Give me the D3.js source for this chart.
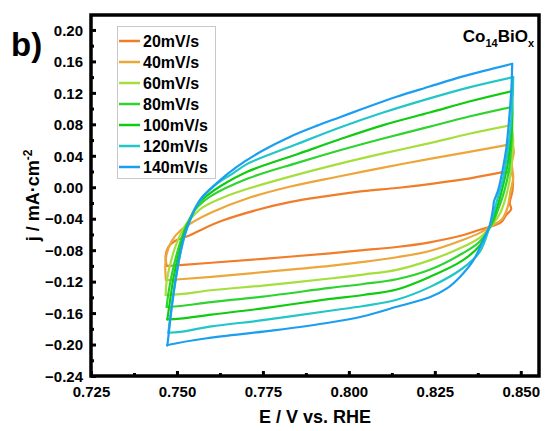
<!DOCTYPE html>
<html>
<head>
<meta charset="utf-8">
<script src="https://cdn.jsdelivr.net/npm/d3@7"></script>
<style>
  body { margin: 0; background: #fff; }
  svg text { font-family: "Liberation Sans", Arial, sans-serif; font-weight: bold; fill: #000; }
</style>
</head>
<body>
<svg id="canvas" width="545" height="431"></svg>
<script>
// scan rates shown in the legend
let rates = ['20mV/s', '40mV/s', '60mV/s', '80mV/s', '100mV/s', '120mV/s', '140mV/s'];
let colors = ['#f07d2a', '#eca63a', '#a4df3c', '#2ed42e', '#10cc10', '#22c6c6', '#1c9ef0'];

// CV loops: [E (V vs RHE), j (mA/cm2)]
// each loop: anodic branch left->right, then back along the cathodic branch
let cv20 = [[0.7470,-0.100],[0.7467,-0.088],[0.7475,-0.076],[0.7495,-0.068],[0.7538,-0.061],[0.7580,-0.052],[0.7635,-0.042],[0.7732,-0.029],[0.7828,-0.019],[0.7925,-0.012],[0.8040,-0.005],[0.8139,-0.001],[0.8235,0.004],[0.8332,0.010],[0.8444,0.019],
  [0.8473,0.018],[0.8476,-0.004],[0.8468,-0.020],[0.8472,-0.028],[0.8458,-0.035],[0.8444,-0.044],[0.8420,-0.049],
  [0.8381,-0.054],[0.8331,-0.061],[0.8235,-0.070],[0.8139,-0.076],[0.8042,-0.080],[0.7945,-0.084],[0.7750,-0.091],[0.7600,-0.096],[0.7509,-0.099],[0.7470,-0.100]];
let cv40 = [[0.7468,-0.118],[0.7466,-0.100],[0.7470,-0.085],[0.7485,-0.068],[0.7510,-0.055],[0.7547,-0.044],[0.7600,-0.032],[0.7706,-0.014],[0.7830,0.001],[0.7974,0.014],[0.8100,0.025],[0.8235,0.036],[0.8350,0.045],[0.8450,0.053],[0.8476,0.055],
  [0.8480,0.045],[0.8474,0.030],[0.8478,0.012],[0.8470,-0.005],[0.8462,-0.025],[0.8445,-0.041],[0.8415,-0.049],
  [0.8381,-0.058],[0.8331,-0.067],[0.8235,-0.081],[0.8139,-0.089],[0.8042,-0.095],[0.7945,-0.100],[0.7750,-0.108],[0.7600,-0.114],[0.7509,-0.117],[0.7468,-0.118]];
let cv60 = [[0.7467,-0.137],[0.7470,-0.120],[0.7482,-0.095],[0.7500,-0.070],[0.7525,-0.048],[0.7555,-0.033],[0.7577,-0.025],[0.7640,-0.012],[0.7706,-0.002],[0.7850,0.016],[0.7974,0.030],[0.8100,0.043],[0.8235,0.056],[0.8350,0.068],[0.8472,0.079],
  [0.8478,0.060],[0.8474,0.035],[0.8468,0.010],[0.8455,-0.015],[0.8440,-0.033],[0.8418,-0.047],
  [0.8381,-0.064],[0.8331,-0.076],[0.8235,-0.093],[0.8139,-0.105],[0.8042,-0.111],[0.7945,-0.116],[0.7750,-0.125],[0.7600,-0.131],[0.7509,-0.136],[0.7467,-0.137]];
let cv80 = [[0.7470,-0.152],[0.7475,-0.135],[0.7488,-0.105],[0.7506,-0.075],[0.7528,-0.048],[0.7560,-0.025],[0.7596,-0.012],[0.7706,0.011],[0.7850,0.031],[0.7974,0.047],[0.8100,0.062],[0.8235,0.077],[0.8350,0.090],[0.8472,0.102],
  [0.8475,0.080],[0.8472,0.050],[0.8465,0.020],[0.8452,-0.005],[0.8437,-0.025],[0.8418,-0.045],
  [0.8381,-0.069],[0.8331,-0.084],[0.8235,-0.105],[0.8139,-0.117],[0.8042,-0.123],[0.7945,-0.128],[0.7750,-0.139],[0.7600,-0.146],[0.7509,-0.151],[0.7470,-0.152]];
let cv100 = [[0.7472,-0.168],[0.7478,-0.150],[0.7490,-0.115],[0.7508,-0.080],[0.7530,-0.048],[0.7560,-0.022],[0.7595,-0.008],[0.7625,0.001],[0.7706,0.020],[0.7850,0.042],[0.7974,0.061],[0.8100,0.079],[0.8235,0.095],[0.8350,0.109],[0.8472,0.122],
  [0.8476,0.095],[0.8470,0.060],[0.8462,0.030],[0.8450,0.005],[0.8435,-0.020],[0.8416,-0.044],
  [0.8381,-0.074],[0.8331,-0.093],[0.8235,-0.114],[0.8139,-0.130],[0.8042,-0.137],[0.7945,-0.142],[0.7750,-0.154],[0.7600,-0.162],[0.7509,-0.167],[0.7472,-0.168]];
let cv120 = [[0.7475,-0.185],[0.7482,-0.160],[0.7495,-0.120],[0.7512,-0.080],[0.7535,-0.045],[0.7565,-0.018],[0.7612,0.003],[0.7664,0.018],[0.7706,0.030],[0.7850,0.055],[0.7974,0.076],[0.8100,0.095],[0.8235,0.113],[0.8350,0.127],[0.8478,0.140],
  [0.8476,0.110],[0.8470,0.075],[0.8460,0.040],[0.8448,0.010],[0.8432,-0.015],[0.8412,-0.046],
  [0.8381,-0.082],[0.8331,-0.103],[0.8235,-0.127],[0.8139,-0.143],[0.8042,-0.151],[0.7945,-0.157],[0.7750,-0.169],[0.7600,-0.177],[0.7509,-0.184],[0.7475,-0.185]];
let cv140 = [[0.7472,-0.201],[0.7474,-0.194],[0.7485,-0.152],[0.7499,-0.110],[0.7518,-0.067],[0.7538,-0.042],[0.7567,-0.016],[0.7615,0.005],[0.7674,0.026],[0.7751,0.047],[0.7828,0.064],[0.7906,0.078],[0.7974,0.089],[0.8042,0.100],[0.8139,0.115],[0.8235,0.128],[0.8332,0.141],[0.8475,0.157],
  [0.8473,0.128],[0.8466,0.086],[0.8458,0.050],[0.8449,0.026],[0.8434,-0.004],[0.8422,-0.018],[0.8420,-0.025],[0.8410,-0.048],
  [0.8391,-0.067],[0.8362,-0.093],[0.8323,-0.114],[0.8284,-0.129],[0.8235,-0.140],[0.8139,-0.152],[0.8042,-0.164],[0.7945,-0.172],[0.7781,-0.182],[0.7587,-0.192],[0.7480,-0.200],[0.7472,-0.201]];

let loops = [cv20, cv40, cv60, cv80, cv100, cv120, cv140];

// tick labels
let xTicks = [0.725, 0.750, 0.775, 0.800, 0.825, 0.850];
let xMinor = [0.7375, 0.7625, 0.7875, 0.8125, 0.8375];
let yTicks = [-0.24, -0.20, -0.16, -0.12, -0.08, -0.04, 0.00, 0.04, 0.08, 0.12, 0.16, 0.20];
let yMinor = [-0.22, -0.18, -0.14, -0.10, -0.06, -0.02, 0.02, 0.06, 0.10, 0.14, 0.18];

let canvas = d3.select('#canvas');
let plotLeft = 91, plotRight = 539, plotTop = 15, plotBottom = 376;

let x = d3.scaleLinear().domain([0.725, 0.8553]).range([plotLeft, plotRight]);
let y = d3.scaleLinear().domain([-0.24, 0.219]).range([plotBottom, plotTop]);

// loops: split each at the vertex (top right corner) so the corner stays sharp
let line = d3.line()
    .x(d => x(d[0]))
    .y(d => y(d[1]))
    .curve(d3.curveCatmullRom.alpha(0.5));

let branches = [];
loops.forEach((loop, i) => {
  let k = d3.maxIndex(loop, d => d[1]);
  branches.push({pts: loop.slice(0, k + 1), i: i});
  branches.push({pts: loop.slice(k), i: i});
});

canvas.append('g')
  .selectAll('path')
  .data(branches)
  .enter()
  .append('path')
  .attr('d', d => line(d.pts))
  .attr('fill', 'none')
  .attr('stroke', d => colors[d.i])
  .attr('stroke-width', 2.2)
  .attr('stroke-linejoin', 'round')
  .attr('stroke-linecap', 'round');

// axes, ticks pointing inward
let xAxis = canvas.append('g')
  .attr('transform', `translate(0,${plotBottom})`)
  .call(d3.axisBottom(x).tickValues(xTicks).tickSize(-5).tickPadding(10).tickFormat(d3.format('.3f')));
canvas.append('g')
  .attr('transform', `translate(0,${plotBottom})`)
  .call(d3.axisBottom(x).tickValues(xMinor).tickSize(-3).tickFormat(''));
let yAxis = canvas.append('g')
  .attr('transform', `translate(${plotLeft},0)`)
  .call(d3.axisLeft(y).tickValues(yTicks).tickSize(-5).tickPadding(8).tickFormat(d3.format('.2f')));
canvas.append('g')
  .attr('transform', `translate(${plotLeft},0)`)
  .call(d3.axisLeft(y).tickValues(yMinor).tickSize(-3).tickFormat(''));

canvas.selectAll('.domain').remove();
canvas.selectAll('.tick line').attr('stroke', '#000').attr('stroke-width', 3);
xAxis.selectAll('text').style('font-size', '15px');
yAxis.selectAll('text').style('font-size', '15px').attr('dy', '0.35em');

// frame
canvas.append('rect')
  .attr('x', plotLeft)
  .attr('y', plotTop)
  .attr('width', plotRight - plotLeft)
  .attr('height', plotBottom - plotTop)
  .attr('fill', 'none')
  .attr('stroke', '#000')
  .attr('stroke-width', 3.5);

// axis titles
canvas.append('text')
  .attr('x', (plotLeft + plotRight) / 2)
  .attr('y', 423)
  .attr('text-anchor', 'middle')
  .style('font-size', '18px')
  .text('E / V vs. RHE');

let yTitle = canvas.append('text')
  .attr('transform', `translate(39,${(plotTop + plotBottom) / 2}) rotate(-90)`)
  .attr('text-anchor', 'middle')
  .style('font-size', '18px');
yTitle.append('tspan').text('j / mA·cm');
yTitle.append('tspan').attr('dy', -7).style('font-size', '12px').text('-2');

// panel label and sample name
canvas.append('text')
  .attr('x', 11)
  .attr('y', 56)
  .style('font-size', '33px')
  .text('b)');

let sample = canvas.append('text')
  .attr('x', 534)
  .attr('y', 42)
  .attr('text-anchor', 'end')
  .style('font-size', '17px');
sample.append('tspan').text('Co');
sample.append('tspan').attr('dy', 5).style('font-size', '11px').text('14');
sample.append('tspan').attr('dy', -5).text('BiO');
sample.append('tspan').attr('dy', 5).style('font-size', '11px').text('x');

// legend
let legend = canvas.append('g');
legend.append('rect')
  .attr('x', 117.5)
  .attr('y', 26.5)
  .attr('width', 98)
  .attr('height', 152)
  .attr('fill', '#fff')
  .attr('stroke', '#c8c8c8')
  .attr('stroke-width', 1);

let rows = legend.selectAll('g.row')
  .data(rates)
  .enter()
  .append('g')
  .attr('class', 'row')
  .attr('transform', (d, i) => `translate(0,${41 + i * 21})`);
rows.append('line')
  .attr('x1', 119)
  .attr('x2', 140)
  .attr('stroke', (d, i) => colors[i])
  .attr('stroke-width', 2.5);
rows.append('text')
  .attr('x', 143)
  .attr('dy', '0.36em')
  .style('font-size', '16px')
  .text(d => d);
</script>
</body>
</html>
